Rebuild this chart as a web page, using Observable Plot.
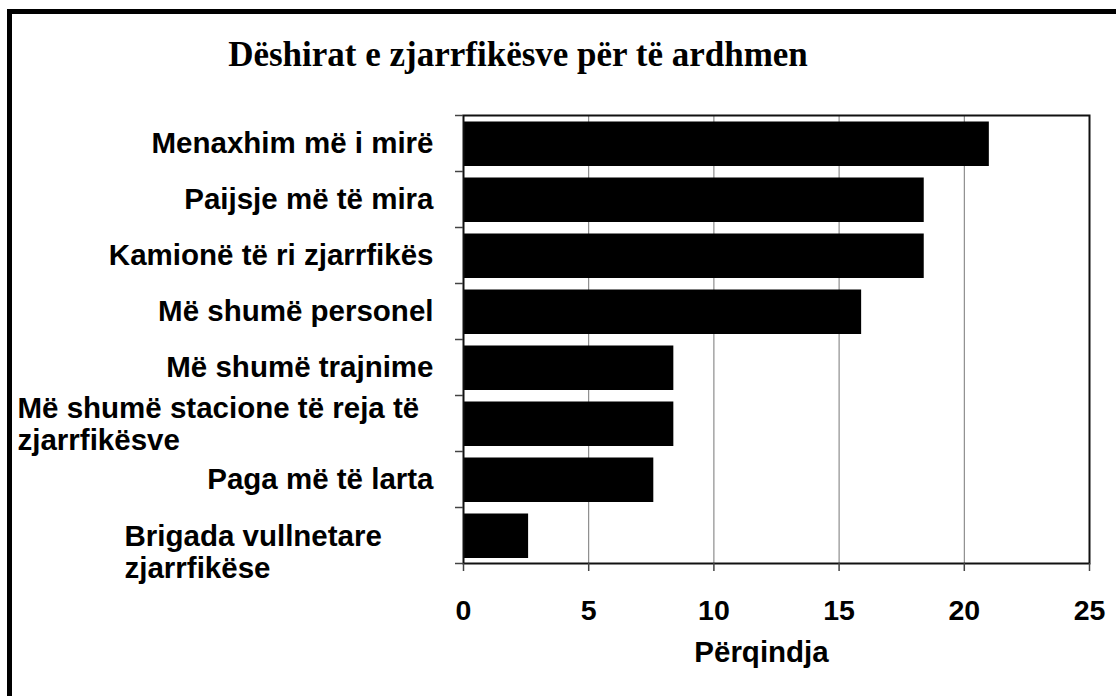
<!DOCTYPE html>
<html>
<head>
<meta charset="utf-8">
<script src="https://cdn.jsdelivr.net/npm/d3@7"></script>
<script src="https://cdn.jsdelivr.net/npm/@observablehq/plot@0.6"></script>
<style>
  html, body { margin: 0; padding: 0; background: #fff; overflow: hidden; }
  #wrap { position: relative; width: 1116px; height: 696px; overflow: hidden; }
  #border { position: absolute; left: 7px; top: 9px; width: 1300px; height: 900px; border: 5px solid #000; box-sizing: border-box; }
  #title { position: absolute; left: 0; width: 1036px; top: 37px; text-align: center; font-family: "Liberation Serif", "Times New Roman", serif; font-weight: bold; font-size: 35px; line-height: 35px; color: #000; }
  #chart { position: absolute; left: 0; top: 0; }
</style>
</head>
<body>
<div id="wrap">
  <div id="border"></div>
  <div id="chart"></div>
  <div id="title">Dëshirat e zjarrfikësve për të ardhmen</div>
</div>
<script>
const categories = [
  "Menaxhim më i mirë",
  "Paijsje më të mira",
  "Kamionë të ri zjarrfikës",
  "Më shumë personel",
  "Më shumë trajnime",
  "Më shumë stacione të reja të\nzjarrfikësve",
  "Paga më të larta",
  "Brigada vullnetare\nzjarrfikëse"
];
const values = [21, 18.4, 18.4, 15.9, 8.4, 8.4, 7.6, 2.6];
const xTicks = [0, 5, 10, 15, 20, 25];
const gridTicks = [5, 10, 15, 20];
const xLabel = "Përqindja";

const data = categories.map((c, i) => ({category: c, value: values[i]}));

const W = 1116, H = 696, mt = 115, mb = 133, ml = 463, mr = 27;
const step = (H - mt - mb) / categories.length;

const labelFont = 29.5;
const isMulti = d => d.category.includes("\n");
const singles = data.filter(d => !isMulti(d));
const multiA = data.filter(isMulti).slice(0, 1);
const multiB = data.filter(isMulti).slice(1, 2);

const chart = Plot.plot({
  width: W,
  height: H,
  marginTop: mt,
  marginBottom: mb,
  marginLeft: ml,
  marginRight: mr,
  style: {fontFamily: "'Liberation Sans', Arial, sans-serif", fontWeight: "bold", color: "#000", background: "transparent", overflow: "visible"},
  x: {domain: [0, 25]},
  y: {domain: categories, padding: 0, axis: null},
  marks: [
    Plot.gridX(gridTicks, {stroke: "#777", strokeOpacity: 1, strokeWidth: 1}),
    Plot.barX(data, {y: "category", x: "value", fill: "#000", insetTop: 6.5, insetBottom: 5}),
    Plot.frame({stroke: "#111", strokeWidth: 2}),
    Plot.ruleY(categories.concat([null]), {
      y: d => d === null ? categories[categories.length - 1] : d,
      x1: 0, x2: 0, insetLeft: -8, stroke: "#444", strokeWidth: 1.5
    }),
    Plot.axisX({ticks: xTicks, tickSize: 8, tickPadding: 28, fontSize: 28.5, fontWeight: "bold", label: null, stroke: "#444", strokeWidth: 1.5}),
    Plot.text(singles, {x: 0, y: "category", text: "category", textAnchor: "end", dx: -30, fontSize: labelFont, fontWeight: "bold", fill: "#000"}),
    Plot.text(multiA, {x: 0, y: "category", text: "category", textAnchor: "start", dx: -446, dy: 0, lineHeight: 1.1, fontSize: labelFont, fontWeight: "bold", fill: "#000"}),
    Plot.text(multiB, {x: 0, y: "category", text: "category", textAnchor: "start", dx: -339, dy: 16, lineHeight: 1.1, fontSize: labelFont, fontWeight: "bold", fill: "#000"}),
    Plot.text([xLabel], {frameAnchor: "bottom", dx: -15, dy: 98, fontSize: 29.5, fontWeight: "bold", fill: "#000"})
  ]
});

// shift category boundary ticks to band edges
const rules = chart.querySelectorAll("g[aria-label='rule'] line");
rules.forEach((l, i) => {
  const off = i < categories.length ? -step / 2 : step / 2;
  l.setAttribute("transform", `translate(0,${off})`);
});

document.getElementById("chart").appendChild(chart);
</script>
</body>
</html>
